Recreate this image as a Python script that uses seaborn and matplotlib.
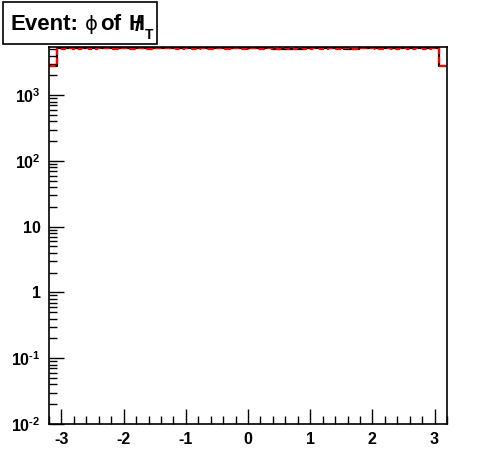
import numpy as np
import pandas as pd
import matplotlib
matplotlib.use("Agg")
import matplotlib.pyplot as plt
from matplotlib.patches import Rectangle
from matplotlib.ticker import FixedLocator, FixedFormatter, LogLocator, NullFormatter
import seaborn as sns

sns.set_style("white")
plt.rcParams['font.family'] = ['Liberation Sans', 'DejaVu Sans']
plt.rcParams['text.color'] = 'black'
plt.rcParams['mathtext.fontset'] = 'custom'
plt.rcParams['mathtext.rm'] = 'Liberation Sans:bold'
plt.rcParams['mathtext.bf'] = 'Liberation Sans:bold'
plt.rcParams['mathtext.it'] = 'Liberation Sans:bold'

# DATA: 50 bins of phi(MHT), -3.2 .. 3.2
bin_edges = [round(-3.2 + 0.128 * i, 3) for i in range(51)]
black_counts = [2750, 5150, 5180, 5170, 5230, 5240, 5230, 5160, 5150, 5170,
                5160, 5150, 5170, 5230, 5160, 5150, 5170, 5160, 5150, 5170,
                5160, 5150, 5170, 5160, 5150, 5170, 5240, 5170, 5080, 5070,
                5080, 5090, 5160, 5150, 5170, 5240, 5160, 5080, 5090, 5160,
                5170, 5160, 5240, 5170, 5160, 5150, 5170, 5160, 5180, 2750]
red_counts = [2750, 5120, 5130, 5120, 5130, 5120, 5200, 5130, 5120, 5130,
              5120, 5130, 5120, 5150, 5190, 5130, 5120, 5130, 5120, 5130,
              5120, 5130, 5120, 5130, 5120, 5130, 5120, 5130, 5120, 5130,
              5120, 5130, 5120, 5130, 5120, 5130, 5120, 5130, 5120, 5130,
              5220, 5080, 5130, 5120, 5130, 5120, 5130, 5120, 5170, 2750]
x_ticks = [-3, -2, -1, 0, 1, 2, 3]
y_ticks = [1e-2, 1e-1, 1, 10, 1e2, 1e3]
y_labels = [r'10$^{\text{-}2}$', r'10$^{\text{-}1}$', '1', '10', r'10$^{2}$', r'10$^{3}$']

centers = [0.5 * (a + b) for a, b in zip(bin_edges[:-1], bin_edges[1:])]
black_df = pd.DataFrame({"phi": centers, "n": black_counts})
red_df = pd.DataFrame({"phi": centers, "n": red_counts})

fig = plt.figure(figsize=(4.96, 4.72), dpi=100)
ax = fig.add_axes([49 / 496, 1 - 424 / 472, 398 / 496, 377 / 472])

sns.histplot(data=black_df, x="phi", weights="n", bins=bin_edges,
             element="step", fill=False, color="black", linewidth=1.6, ax=ax)
sns.histplot(data=red_df, x="phi", weights="n", bins=bin_edges,
             element="step", fill=False, color="red", linewidth=1.6,
             linestyle=(0, (3.0, 1.3)), ax=ax)

ax.set_yscale("log")
ax.set_xlim(-3.2, 3.2)
ax.set_ylim(0.01, 5400)
ax.set_xlabel("")
ax.set_ylabel("")

ax.xaxis.set_major_locator(FixedLocator(x_ticks))
ax.xaxis.set_minor_locator(FixedLocator(np.arange(-3.2, 3.21, 0.2)))
ax.set_xticklabels([str(t) for t in x_ticks], fontweight="bold", fontsize=11.5)
ax.yaxis.set_major_locator(FixedLocator(y_ticks))
ax.yaxis.set_major_formatter(FixedFormatter(y_labels))
ax.yaxis.set_minor_locator(LogLocator(base=10, subs=np.arange(2, 10), numticks=20))
ax.yaxis.set_minor_formatter(NullFormatter())
for lab in ax.get_yticklabels():
    lab.set_fontweight("bold")
    lab.set_fontsize(11.5)

ax.tick_params(which="both", direction="in", bottom=True, left=True,
               top=False, right=False, width=1, colors="black")
ax.tick_params(axis="x", which="major", length=11, pad=6)
ax.tick_params(axis="y", which="major", length=11, pad=6)
ax.tick_params(which="minor", length=6)
for s in ax.spines.values():
    s.set_color("black")
    s.set_linewidth(1.2)

# title box
fig.patches.append(Rectangle((3 / 496, 1 - 44 / 472), 154 / 496, 42 / 472,
                             transform=fig.transFigure, fill=False,
                             edgecolor="black", linewidth=1.2))
fig.text(10 / 496, 1 - 30 / 472, "Event:", fontsize=16, fontweight="bold")
fig.text(85 / 496, 1 - 30 / 472, "\u03d5", fontsize=14, family="DejaVu Sans")
fig.text(100 / 496, 1 - 30 / 472, "of", fontsize=16, fontweight="bold")
fig.text(128 / 496, 1 - 30 / 472, "H", fontsize=16, fontweight="bold")
fig.text(135 / 496, 1 - 31 / 472, "/", fontsize=16, fontweight="bold")
fig.text(145 / 496, 1 - 39 / 472, "T", fontsize=10, fontweight="bold")

fig.savefig("out.png", dpi=100)
